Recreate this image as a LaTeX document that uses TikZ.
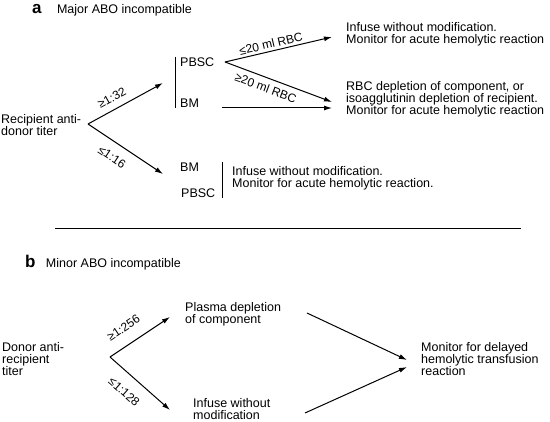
\documentclass[tikz,border=0pt]{standalone}
\usepackage{fontspec}
\setmainfont{Liberation Sans}
\usetikzlibrary{arrows.meta,positioning}
\newcommand{\fs}{\fontsize{12.5}{12}\selectfont}
\newcommand{\larrow}[4]{
  \draw [arr] (#1) -- node [lbl,#3] {#4} (#2);
}
\tikzset{
  txt/.style={font=\fs,align=left,inner sep=0pt,anchor=west},
  lbl/.style={font=\fontsize{12}{12}\selectfont,inner sep=2pt,sloped},
  panel/.style={font=\fontsize{17}{17}\selectfont\bfseries,inner sep=0pt,anchor=base west},
  arr/.style={-{Latex[length=8pt,width=5pt]},line width=1pt},
  bar/.style={line width=1pt}
}

\begin{document}
\begin{tikzpicture}[x=1pt,y=-1pt]
  \useasboundingbox (0,0) rectangle (550,422);

  % a: major ABO incompatible
  \node [panel] (pa) at (32,14) {a};
  \node [txt,base right=15pt of pa] (ta) {Major ABO incompatible};

  \node [txt] (recip) at (1,125) {Recipient anti-\\donor titer};
  \coordinate (fa) at (88,124);
  \coordinate (fa1) at (163,83);
  \coordinate (fa2) at (163,174);
  \larrow{fa}{fa1}{above=4.5pt,pos=0.39}{≥1:32}
  \larrow{fa}{fa2}{below=7.5pt,pos=0.425}{≤1:16}

  \draw [bar] (175,57) -- (175,108);
  \node [txt] (pbsc1) at (180,62) {PBSC};
  \node [txt] (bm1) at (180,103) {BM};
  \coordinate (fp) at (225,62);
  \coordinate (fp1) at (332,37);
  \coordinate (fp2) at (332,102);
  \coordinate (fb) at (222,108);
  \coordinate (fb1) at (332,108);
  \larrow{fp}{fp1}{above=0.5pt,pos=0.445}{≤20 ml RBC}
  \larrow{fp}{fp2}{below=3pt,pos=0.414}{≥20 ml RBC}
  \draw [arr] (fb) -- (fb1);
  \node [txt] (inf1) at (346,34) {Infuse without modification.\\Monitor for acute hemolytic reaction};
  \node [txt] (rbc) at (346,99) {RBC depletion of component, or\\isoagglutinin depletion of recipient.\\Monitor for acute hemolytic reaction};

  \node [txt] (bm2) at (180,167) {BM};
  \node [txt] (pbsc2) at (181,193) {PBSC};
  \draw [bar] (222,162) -- (222,198);
  \node [txt] (inf2) at (232,178) {Infuse without modification.\\Monitor for acute hemolytic reaction.};

  \draw [bar] (55,229) -- (521,229);

  % b: minor ABO incompatible
  \node [panel] (pb) at (25,268) {b};
  \node [txt,base right=10pt of pb] (tb) {Minor ABO incompatible};

  \node [txt] (donor) at (2,359) {Donor anti-\\recipient\\titer};
  \coordinate (fd) at (110,357);
  \coordinate (fd1) at (170,317);
  \coordinate (fd2) at (170,410);
  \larrow{fd}{fd1}{above=10pt,pos=0.38}{≥1:256}
  \larrow{fd}{fd2}{below=10pt,pos=0.42}{≤1:128}

  \node [txt] (plasma) at (185,314) {Plasma depletion\\of component};
  \node [txt] (infb) at (193,409) {Infuse without\\modification};
  \node [txt] (mon) at (421,359) {Monitor for delayed\\hemolytic transfusion\\reaction};
  \coordinate (pl1) at (307,313);
  \coordinate (in1) at (305,413);
  \coordinate (mo1) at (407,360);
  \coordinate (mo2) at (407,367);
  \draw [arr] (pl1) -- (mo1);
  \draw [arr] (in1) -- (mo2);
\end{tikzpicture}
\end{document}
